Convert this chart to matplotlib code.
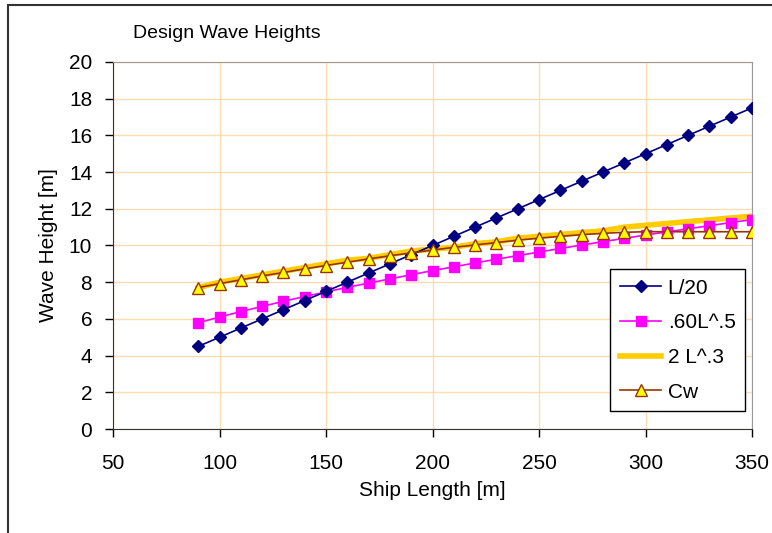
import matplotlib
matplotlib.use('Agg')
import matplotlib.pyplot as plt
import matplotlib.patches as mpatches

plt.rcParams['font.family'] = ['Liberation Sans', 'DejaVu Sans']

# ship lengths [m]
lengths = [90, 100, 110, 120, 130, 140, 150, 160, 170, 180, 190, 200, 210, 220,
           230, 240, 250, 260, 270, 280, 290, 300, 310, 320, 330, 340, 350]

l_20 = [4.5, 5.0, 5.5, 6.0, 6.5, 7.0, 7.5, 8.0, 8.5, 9.0, 9.5, 10.0, 10.5, 11.0,
        11.5, 12.0, 12.5, 13.0, 13.5, 14.0, 14.5, 15.0, 15.5, 16.0, 16.5, 17.0, 17.5]

sqrt_l = [5.79, 6.10, 6.40, 6.68, 6.96, 7.22, 7.47, 7.72, 7.95, 8.18, 8.41, 8.63, 8.84, 9.05,
          9.25, 9.45, 9.64, 9.84, 10.02, 10.21, 10.39, 10.57, 10.74, 10.91, 11.08, 11.25, 11.41]

pow_l = [7.7, 8.0, 8.2, 8.4, 8.6, 8.8, 9.0, 9.2, 9.3, 9.5, 9.7, 9.8, 9.9, 10.1,
         10.2, 10.4, 10.5, 10.6, 10.7, 10.8, 11.0, 11.1, 11.2, 11.3, 11.4, 11.5, 11.6]

cw = [7.71, 7.92, 8.13, 8.34, 8.53, 8.73, 8.91, 9.09, 9.27, 9.44, 9.60, 9.75, 9.90, 10.03,
      10.16, 10.29, 10.40, 10.50, 10.59, 10.66, 10.72, 10.75, 10.75, 10.75, 10.75, 10.75, 10.75]

fig = plt.figure(figsize=(7.72, 5.33), dpi=100)
fig.patch.set_facecolor("white")
ax = fig.add_axes([0.1464, 0.1951, 0.8277, 0.6886])

ax.plot(lengths, l_20, color="#000080", marker="D", markersize=6, linewidth=1.2,
        label="L/20", zorder=5)
ax.plot(lengths, sqrt_l, color="#FF00FF", marker="s", markersize=7, linewidth=1.2,
        label=".60L^.5", zorder=4)
ax.plot(lengths, pow_l, color="#FFCC00", linewidth=4, label="2 L^.3", zorder=3)
ax.plot(lengths, cw, color="#993300", marker="^", markersize=8, linewidth=1.2,
        markerfacecolor="#FFFF00", markeredgecolor="#993300", label="Cw", zorder=6)

ax.set_xlim(50, 350)
ax.set_ylim(0, 20)
ax.set_xticks(range(50, 351, 50))
ax.set_yticks(range(0, 21, 2))
ax.tick_params(direction="out", length=6, width=1, labelsize=15, colors="black")
ax.tick_params(axis="x", pad=12)
ax.tick_params(axis="y", pad=9)
ax.grid(True, color="#FFDDB0", linewidth=1)
ax.set_axisbelow(True)

for s in ["top", "right"]:
    ax.spines[s].set_color("#999999")
for s in ["left", "bottom"]:
    ax.spines[s].set_color("#333333")

ax.set_xlabel("Ship Length [m]", fontsize=15, labelpad=6)
ax.set_ylabel("Wave Height [m]", fontsize=15, labelpad=8)

fig.text(133 / 772, 1 - 33 / 533, "Design Wave Heights", fontsize=14,
         ha="left", va="center")

leg = ax.legend(loc="lower right", bbox_to_anchor=(0.989, 0.049), borderaxespad=0,
                fontsize=15, fancybox=False, framealpha=1, edgecolor="black",
                labelspacing=0.75, handlelength=2.0, handletextpad=0.3, borderpad=0.45)
leg.get_frame().set_linewidth(1)

# outer frame (only left and top edges visible)
fig.add_artist(mpatches.Rectangle((8 / 772, -0.1), 1.2, 1.1 - 5 / 533,
                                  transform=fig.transFigure, fill=False,
                                  edgecolor="#333333", linewidth=1.5))

plt.savefig("out.png", dpi=100)
plt.close()
